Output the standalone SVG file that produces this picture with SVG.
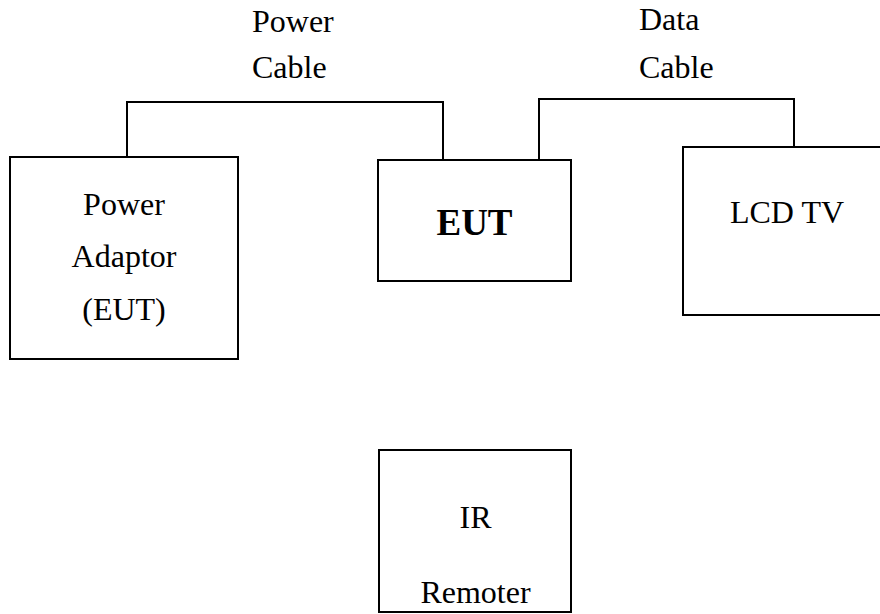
<svg xmlns="http://www.w3.org/2000/svg" width="880" height="614" viewBox="0 0 880 614">
<style>
.box{fill:#fff;stroke:#000;stroke-width:2}
.wire{fill:none;stroke:#000;stroke-width:2}
text{font-family:"Liberation Serif","Times New Roman",serif;font-size:32px;fill:#000}
.c{text-anchor:middle}
.b{font-weight:bold;font-size:37px}
</style>
<rect width="880" height="614" fill="#fff"/>
<g id="connectors">
<polyline class="wire" points="127,157 127,102 443,102 443,160"/>
<polyline class="wire" points="539,160 539,99 794,99 794,147"/>
</g>
<g id="labels">
<text x="252" y="32">Power</text>
<text x="252" y="78">Cable</text>
<text x="639" y="30">Data</text>
<text x="639" y="78">Cable</text>
</g>
<g id="power-adaptor">
<rect class="box" x="10" y="157" width="228" height="202"/>
<text class="c" x="124" y="215">Power</text>
<text class="c" x="124" y="267">Adaptor</text>
<text class="c" x="124" y="320">(EUT)</text>
</g>
<g id="eut">
<rect class="box" x="378" y="160" width="193" height="121"/>
<text class="c b" x="474.5" y="235">EUT</text>
</g>
<g id="lcd-tv">
<rect class="box" x="683" y="147" width="210" height="168"/>
<text class="c" x="787" y="223">LCD TV</text>
</g>
<g id="ir-remoter">
<rect class="box" x="379" y="450" width="192" height="162"/>
<text class="c" x="475.5" y="528">IR</text>
<text class="c" x="475.5" y="603">Remoter</text>
</g>
</svg>
